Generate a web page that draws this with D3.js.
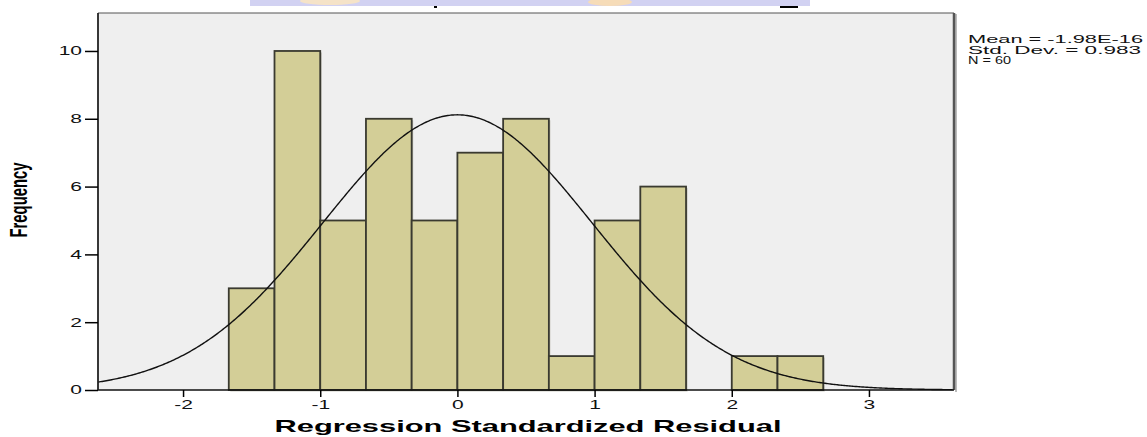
<!DOCTYPE html>
<html>
<head>
<meta charset="utf-8">
<script src="https://cdn.jsdelivr.net/npm/d3@7.9.0/dist/d3.min.js"></script>
<style>
  body { margin: 0; background: #fff; }
  svg { display: block; }
  text { font-family: "Liberation Sans", Arial, sans-serif; }
</style>
</head>
<body>
<svg id="chart" width="1147" height="437"></svg>
<script>
// histogram of residuals, bin width 1/3
const binStarts = [-5/3, -4/3, -1, -2/3, -1/3, 0, 1/3, 2/3, 1, 4/3, 5/3, 2, 7/3];
const counts = [3, 10, 5, 8, 5, 7, 8, 1, 5, 6, 0, 1, 1];
const binWidth = 1/3;
const xTicks = [-2, -1, 0, 1, 2, 3];
const yTicks = [0, 2, 4, 6, 8, 10];
const stats = ["Mean = -1.98E-16", "Std. Dev. = 0.983", "N = 60"];
const statWidths = [175, 173, 43];
const mean = -1.98e-16, sd = 0.983, n = 60;

const svg = d3.select("#chart");
const pLeft = 98, pRight = 954, pTop = 13, pBottom = 390;

const x = d3.scaleLinear().domain([-2.62, 3.62]).range([pLeft, pRight]);
const y = d3.scaleLinear().domain([0, 11.12]).range([pBottom, pTop]);

// the source image is stretched sideways, so widen the glyphs
function widen(sel, f) {
  sel.each(function () {
    const w = this.getComputedTextLength();
    d3.select(this).attr("textLength", w * f).attr("lengthAdjust", "spacingAndGlyphs");
  });
}

// watermark strip at the very top
svg.append("rect").attr("x", 250).attr("y", 0).attr("width", 560).attr("height", 6)
  .attr("fill", "#d2d2f2");
svg.append("ellipse").attr("cx", 330).attr("cy", 1).attr("rx", 30).attr("ry", 4).attr("fill", "#f5e3c8");
svg.append("ellipse").attr("cx", 610).attr("cy", 2).attr("rx", 22).attr("ry", 4).attr("fill", "#f6dcb8");
svg.append("rect").attr("x", 434).attr("y", 6).attr("width", 3).attr("height", 2).attr("fill", "#000");
svg.append("rect").attr("x", 780).attr("y", 6).attr("width", 18).attr("height", 2).attr("fill", "#000");

// plot background and frame
svg.append("rect").attr("x", pLeft).attr("y", pTop).attr("width", pRight - pLeft).attr("height", pBottom - pTop)
  .attr("fill", "#efefef");
svg.append("line").attr("x1", pLeft).attr("x2", pRight).attr("y1", pTop).attr("y2", pTop)
  .attr("stroke", "#555").attr("stroke-width", 1.2);
svg.append("line").attr("x1", pRight + 2).attr("x2", pRight + 2).attr("y1", pTop + 1).attr("y2", pBottom + 2)
  .attr("stroke", "#bbb").attr("stroke-width", 2);
svg.append("line").attr("x1", pRight).attr("x2", pRight).attr("y1", pTop).attr("y2", pBottom)
  .attr("stroke", "#555").attr("stroke-width", 2.5);

// bars
const bars = svg.append("g");
binStarts.forEach((s, i) => {
  if (counts[i] === 0) return;
  const x0 = x(s), x1 = x(s + binWidth);
  bars.append("rect")
    .attr("x", x0 + 1.5).attr("y", y(counts[i]) + 1.5)
    .attr("width", x1 - x0).attr("height", pBottom - y(counts[i]))
    .attr("fill", "#9a9888").attr("opacity", 0.5);
  bars.append("rect")
    .attr("x", x0).attr("y", y(counts[i]))
    .attr("width", x1 - x0).attr("height", pBottom - y(counts[i]))
    .attr("fill", "#d3ce97").attr("stroke", "#3a3a30").attr("stroke-width", 1.8);
});

// normal curve
const curve = d3.range(-2.62, 3.62, 0.01).map(v => [v,
  n * binWidth / (sd * Math.sqrt(2 * Math.PI)) * Math.exp(-0.5 * ((v - mean) / sd) ** 2)]);
svg.append("path")
  .attr("d", d3.line().x(d => x(d[0])).y(d => y(d[1]))(curve))
  .attr("fill", "none").attr("stroke", "#111").attr("stroke-width", 1.4);

// axes
const xAxis = svg.append("g").attr("transform", `translate(0,${pBottom})`)
  .call(d3.axisBottom(x).tickValues(xTicks).tickSize(7).tickFormat(d3.format("d")));
xAxis.select(".domain").attr("d", `M${pLeft},0H${pRight}`).attr("stroke", "#111").attr("stroke-width", 1.5);
xAxis.selectAll(".tick line").attr("stroke-width", 1.5);
xAxis.selectAll("text").attr("font-size", 12).attr("fill", "#111")
  .text(d => d < 0 ? "-" + Math.abs(d) : d)
  .call(widen, 1.75);

const yAxis = svg.append("g").attr("transform", `translate(${pLeft},0)`)
  .call(d3.axisLeft(y).tickValues(yTicks).tickSize(13));
yAxis.select(".domain").attr("d", `M0,${pTop}V${pBottom}`).attr("stroke", "#222").attr("stroke-width", 1.8);
yAxis.selectAll(".tick line").attr("stroke-width", 1.5);
yAxis.selectAll("text").attr("font-size", 12).attr("fill", "#111").attr("x", -16)
  .call(widen, 1.75);

// axis titles
svg.append("text").attr("transform", "translate(27,200) rotate(-90)")
  .attr("text-anchor", "middle").attr("font-size", 24).attr("font-weight", "bold")
  .attr("textLength", 75).attr("lengthAdjust", "spacingAndGlyphs")
  .text("Frequency");
svg.append("text").attr("x", 528).attr("y", 432)
  .attr("text-anchor", "middle").attr("font-size", 17).attr("font-weight", "bold")
  .attr("textLength", 507).attr("lengthAdjust", "spacingAndGlyphs")
  .text("Regression Standardized Residual");

// stats box
svg.append("g").selectAll("text").data(stats).join("text")
  .attr("x", 968).attr("y", (d, i) => 43 + i * 10.5)
  .attr("font-size", 10.5).attr("fill", "#111")
  .attr("textLength", (d, i) => statWidths[i]).attr("lengthAdjust", "spacingAndGlyphs")
  .text(d => d);
</script>
</body>
</html>
